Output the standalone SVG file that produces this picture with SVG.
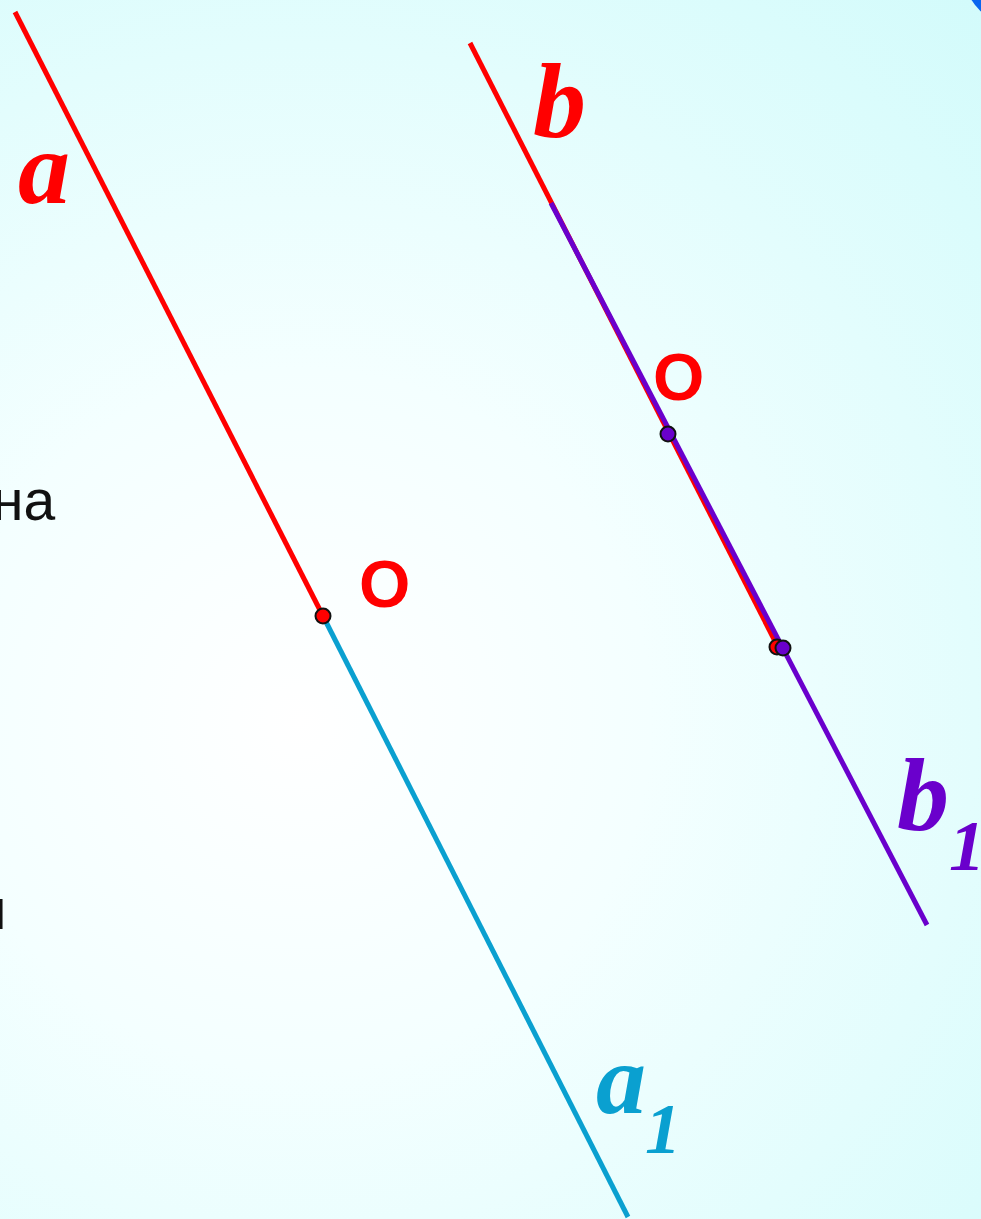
<svg xmlns="http://www.w3.org/2000/svg" width="981" height="1219" viewBox="0 0 981 1219">
<defs>
<radialGradient id="bg" cx="300" cy="720" r="1000" gradientUnits="userSpaceOnUse">
<stop offset="0" stop-color="#ffffff"/>
<stop offset="0.35" stop-color="#f4ffff"/>
<stop offset="1" stop-color="#d2fbfb"/>
</radialGradient>
<style>
.ln{stroke-width:5;fill:none;stroke-linecap:butt}
.lbl{font-family:"Liberation Serif","Times New Roman",serif;font-style:italic;font-weight:bold}
.pt{font-family:"Liberation Sans",Arial,sans-serif;font-weight:bold;fill:#ff0000}
.tx{font-family:"Liberation Sans",Arial,sans-serif;fill:#111111;font-size:57px}
.dot{stroke:#111111;stroke-width:2}
</style>
</defs>
<rect width="981" height="1219" fill="url(#bg)"/>
<circle cx="1020" cy="-30" r="57" fill="#0a66f0"/>
<text class="tx" x="-8" y="520">на</text>
<text class="tx" x="-25" y="929">н</text>
<g id="connectors">
<line class="ln" x1="15" y1="12" x2="323" y2="616" stroke="#ff0000"/>
<line class="ln" x1="323" y1="616" x2="628" y2="1217" stroke="#0aa0d0"/>
<line class="ln" x1="470" y1="43" x2="778" y2="647" stroke="#ff0000"/>
<line class="ln" x1="551" y1="203" x2="927" y2="925" stroke="#6a00cc"/>
</g>
<g id="node-O1">
<circle class="dot" cx="323" cy="616" r="7.5" fill="#ff0000"/>
<text class="pt" x="359" y="607" font-size="66">O</text>
</g>
<g id="node-O2">
<circle class="dot" cx="668" cy="434" r="7.5" fill="#6a00cc"/>
<text class="pt" x="653" y="400" font-size="66">O</text>
</g>
<g id="node-P">
<circle class="dot" cx="777" cy="647" r="7.5" fill="#ff0000"/>
<circle class="dot" cx="783" cy="648" r="7.5" fill="#6a00cc"/>
</g>
<g id="label-a"><text class="lbl" x="18" y="203" font-size="104" fill="#ff0000">a</text></g>
<g id="label-b"><text class="lbl" x="533" y="137" font-size="106" fill="#ff0000">b</text></g>
<g id="label-b1"><text class="lbl" x="897" y="830" font-size="104" fill="#6a00cc">b</text><text class="lbl" x="949" y="870" font-size="72" fill="#6a00cc">1</text></g>
<g id="label-a1"><text class="lbl" x="596" y="1113" font-size="100" fill="#0aa0d0">a</text><text class="lbl" x="645" y="1153" font-size="72" fill="#0aa0d0">1</text></g>
</svg>
